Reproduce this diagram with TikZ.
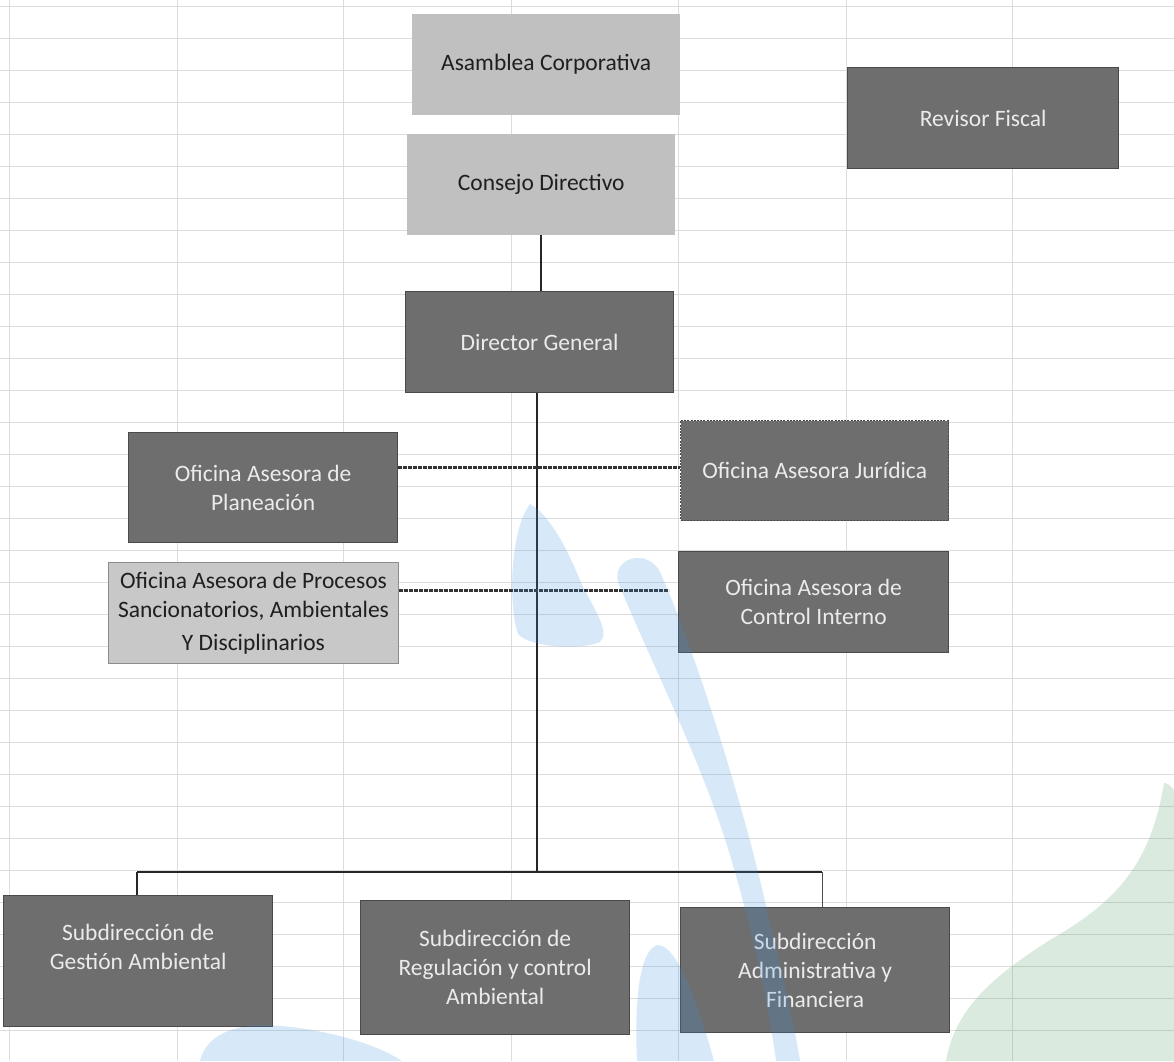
\documentclass[tikz,border=0pt]{standalone}
\usepackage{fontspec}
\setmainfont{Carlito}
\definecolor{boxdark}{HTML}{6E6E6E}
\definecolor{boxedge}{HTML}{4A4A4A}
\definecolor{boxlight}{HTML}{C0C0C0}
\definecolor{boxlight2}{HTML}{C8C8C8}
\definecolor{boxtext}{HTML}{EBEBEB}
\definecolor{gridc}{HTML}{DCDCDC}
\definecolor{wmblue}{HTML}{3A8FE0}
\definecolor{wmgreen}{HTML}{4A9A62}
\begin{document}
\begin{tikzpicture}[x=1pt,y=-1pt,
  txt/.style={align=center, font=\fontsize{23.5}{29}\selectfont, inner sep=0pt},
  dbox/.style={txt, draw=boxedge, line width=1.3pt, fill=boxdark, text=boxtext, anchor=north west},
  lbox/.style={txt, fill=boxlight, text=black!88, anchor=north west},
  conn/.style={line width=1.6pt, black!85},
  thinconn/.style={line width=0.9pt, black!70},
  dotconn/.style={line width=3pt, black!80, dash pattern=on 4pt off 1pt},
  gridline/.style={gridc, line width=0.7pt},
  wm/.style={fill opacity=0.2}]

\useasboundingbox (0,0) rectangle (1174,1061);
\fill[white] (0,0) rectangle (1174,1061);

% spreadsheet grid
\foreach \gx in {9,177,343,511,678,846,1012} \draw[gridline] (\gx,0) -- (\gx,1061);
\foreach \gy in {6,38,...,1060} \draw[gridline] (0,\gy) -- (1174,\gy);

% boxes
\node[lbox, minimum width=268pt, minimum height=101pt] (asamblea) at (412,14) {Asamblea Corporativa};
\node[lbox, minimum width=268pt, minimum height=101pt] (consejo) at (407,134) {Consejo Directivo};
\node[dbox, minimum width=271pt, minimum height=101pt] (revisor) at (847,67) {Revisor Fiscal};
\node[dbox, minimum width=268pt, minimum height=101pt] (director) at (405,291) {Director General};
\node[dbox, minimum width=269pt, minimum height=110pt] (planeacion) at (128,432) {Oficina Asesora de\\Planeación};
\node[dbox, dash pattern=on 2pt off 1.2pt, minimum width=268pt, minimum height=100pt] (juridica) at (680,420) {Oficina Asesora Jurídica};
\node[lbox, fill=boxlight2, draw=black!45, line width=1pt, minimum width=290pt, minimum height=101pt] (procesos) at (108,562) {Oficina Asesora de Procesos\\Sancionatorios, Ambientales\\[4pt]Y Disciplinarios};
\node[dbox, minimum width=270pt, minimum height=101pt] (control) at (678,551) {Oficina Asesora de\\Control Interno};
\node[dbox, minimum width=269pt, minimum height=131pt] (gestion) at (3,895) {Subdirección de\\Gestión Ambiental\\\mbox{}};
\node[dbox, minimum width=269pt, minimum height=134pt] (regulacion) at (360,900) {Subdirección de\\Regulación y control\\Ambiental};
\node[dbox, minimum width=269pt, minimum height=125pt] (admin) at (680,907) {Subdirección\\Administrativa y\\Financiera};

% connectors
\draw[conn] (consejo.south) -- (consejo.south |- director.north);
\coordinate (busM) at (537,872);
\coordinate (busL) at (137,872);
\coordinate (busR) at (822,872);
\draw[conn] (director.south -| busM) -- (busM);
\draw[conn, line width=2.2pt] (busL) -- (busR);
\draw[conn] (busL) -- (busL |- gestion.north);
\draw[thinconn] (busR) -- (busR |- admin.north);
\coordinate (jl) at (680,467);
\draw[dotconn] (planeacion.east |- jl) -- (jl);
\coordinate (cl) at (669,590);
\draw[dotconn] (procesos.east |- cl) -- (cl);

% watermark
\begin{scope}[wm]
\fill[wmblue] (530,504) .. controls (550,515) and (568,550) .. (582,585)
  .. controls (596,612) and (610,632) .. (600,642)
  .. controls (582,650) and (530,648) .. (518,634)
  .. controls (508,605) and (510,530) .. (530,504) -- cycle;
\fill[wmblue] (618,582) .. controls (612,557) and (648,548) .. (660,572)
  .. controls (695,650) and (738,790) .. (760,880)
  .. controls (776,950) and (792,1010) .. (800,1061)
  -- (776,1061) .. controls (768,1000) and (752,930) .. (732,862)
  .. controls (704,765) and (652,665) .. (618,582) -- cycle;
\fill[wmblue] (637,1061) .. controls (634,1000) and (640,948) .. (658,945)
  .. controls (678,945) and (700,1010) .. (714,1061) -- cycle;
\fill[wmblue] (200,1061) .. controls (205,1040) and (225,1026) .. (262,1025)
  .. controls (310,1026) and (370,1040) .. (402,1061) -- cycle;
\fill[wmgreen] (1164,783) .. controls (1150,870) and (1110,905) .. (1050,940)
  .. controls (990,978) and (955,1010) .. (946,1061)
  -- (1174,1061) -- (1174,790) .. controls (1170,785) and (1167,783) .. (1164,783) -- cycle;
\end{scope}
\end{tikzpicture}
\end{document}
